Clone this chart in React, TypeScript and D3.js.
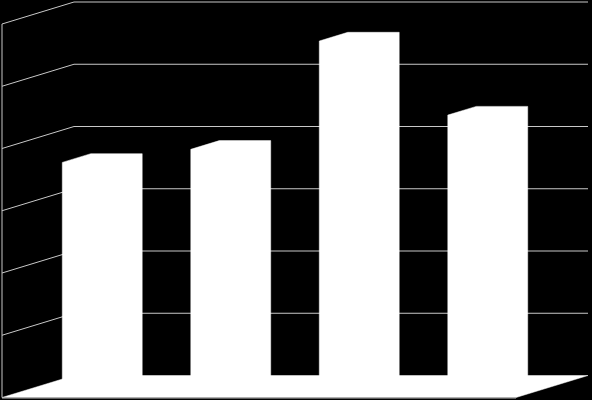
import React from "react";
import * as d3 from "d3";

const categories = ["Cat 1", "Cat 2", "Cat 3", "Cat 4"];
const values = [36.7, 38.8, 56.2, 44.3];
const tickValues = [0, 10, 20, 30, 40, 50, 60];

const W = 592;
const H = 400;

export default function App() {
  const frontLeft = 2;
  const frontRight = 516;
  const frontBottom = 397.5;
  const frontTop = 24;
  const depthDx = 72;
  const depthDy = -22;

  const x = d3.scaleBand<string>().domain(categories).range([frontLeft, frontRight]).padding(0);
  const y = d3.scaleLinear().domain([0, 60]).range([frontBottom, frontTop]);

  const P = (xf: number, v: number, f: number): [number, number] => [xf + f * depthDx, y(v) + f * depthDy];
  const pts = (arr: [number, number][]) => arr.map((p) => p.join(",")).join(" ");

  const barW = x.bandwidth() / 2.5;
  const f0 = 0.302;
  const f1 = 0.698;

  const floor: [number, number][] = [
    P(frontLeft, 0, 0),
    P(frontLeft, 0, 1),
    P(frontRight, 0, 1),
    P(frontRight, 0, 0),
  ];

  const gridColor = "#c8c8c8";

  return (
    <div style={{ position: "fixed", left: 0, top: 0, width: W, height: H }}>
      <svg width={W} height={H} style={{ display: "block", background: "#000" }}>
        <rect x={0} y={0} width={W} height={H} fill="#000" />
        {tickValues.filter((t) => t > 0).map((t) => {
          const a = P(frontLeft, t, 0);
          const b = P(frontLeft, t, 1);
          const c = P(frontRight, t, 1);
          return (
            <polyline key={t} points={pts([a, b, c])} fill="none" stroke={gridColor} strokeWidth={1} />
          );
        })}
        <line
          x1={frontLeft}
          x2={frontLeft}
          y1={y(60)}
          y2={y(0)}
          stroke={gridColor}
          strokeWidth={1}
        />
        <polygon points={pts(floor)} fill="#fff" stroke="#fff" strokeWidth={0.5} />
        <line
          x1={P(frontLeft, 0, 0)[0]}
          x2={P(frontRight, 0, 0)[0]}
          y1={P(frontLeft, 0, 0)[1] + 0.8}
          y2={P(frontRight, 0, 0)[1] + 0.8}
          stroke="#777"
          strokeWidth={1}
        />
        {categories.map((c, i) => {
          const v = values[i];
          const xl = (x(c) as number) + (x.bandwidth() - barW) / 2;
          const xr = xl + barW;
          const silhouette = pts([
            P(xl, 0, f0),
            P(xl, v, f0),
            P(xl, v, f1),
            P(xr, v, f1),
            P(xr, 0, f1),
            P(xr, 0, f0),
          ]);
          return <polygon key={c} points={silhouette} fill="#fff" stroke="#fff" strokeWidth={0.5} />;
        })}
      </svg>
    </div>
  );
}
